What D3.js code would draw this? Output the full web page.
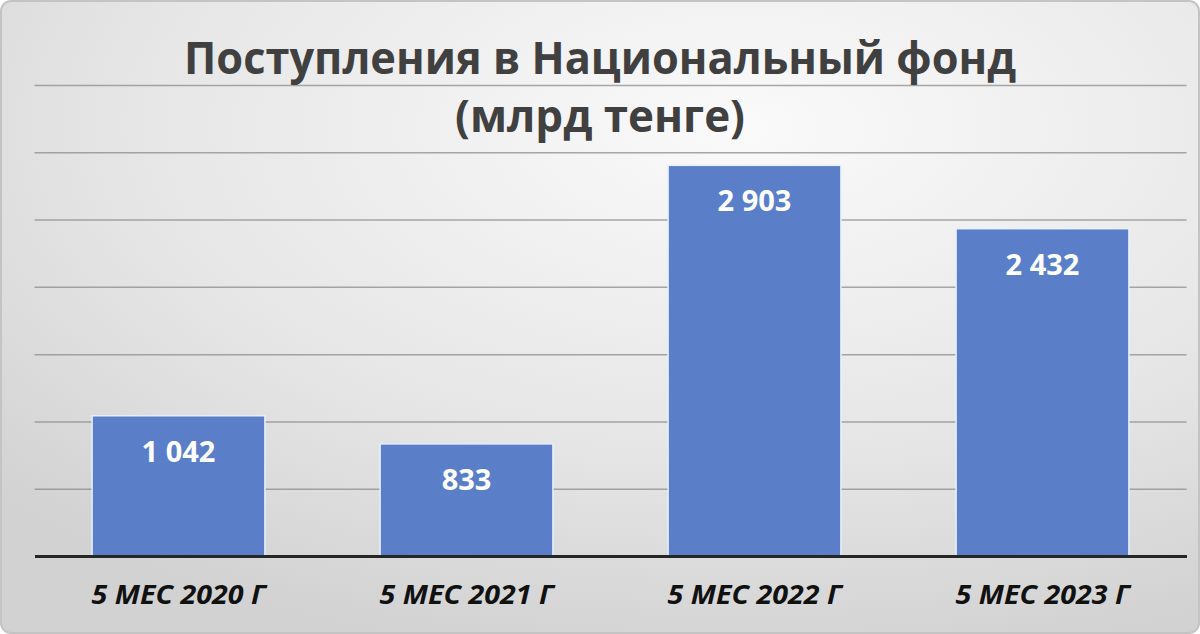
<!DOCTYPE html>
<html>
<head>
<meta charset="utf-8">
<script src="https://cdn.jsdelivr.net/npm/d3@7"></script>
<style>
  html, body { margin: 0; padding: 0; background: #fff; }
  svg { display: block; }
</style>
</head>
<body>
<svg width="1200" height="634"></svg>
<script>
// chart data
const categories = ["5 МЕС 2020 Г", "5 МЕС 2021 Г", "5 МЕС 2022 Г", "5 МЕС 2023 Г"];
const values = [1042, 833, 2903, 2432];
const valueLabels = ["1 042", "833", "2 903", "2 432"];
const gridTicks = [500, 1000, 1500, 2000, 2500, 3000, 3500];
const titleLines = ["Поступления в Национальный фонд", "(млрд тенге)"];

function draw() {
    const W = 1200, H = 634;
    const margin = {top: 85, right: 13.5, bottom: 78, left: 34.5};
    const width = W - margin.left - margin.right,
          height = H - margin.top - margin.bottom;

    const svg = d3.select("svg");

    // background with soft gradient like the office chart area
    const defs = svg.append("defs");
    const grad = defs.append("radialGradient")
        .attr("id", "bg")
        .attr("cx", "62%").attr("cy", "20%").attr("r", "85%");
    grad.append("stop").attr("offset", "0%").attr("stop-color", "#fafafa");
    grad.append("stop").attr("offset", "60%").attr("stop-color", "#e6e6e6");
    grad.append("stop").attr("offset", "100%").attr("stop-color", "#d2d2d2");

    svg.append("rect")
       .attr("x", 1).attr("y", 1)
       .attr("width", W - 2).attr("height", H - 2)
       .attr("rx", 10)
       .attr("fill", "url(#bg)")
       .attr("stroke", "#c4c4c4")
       .attr("stroke-width", 2);

    const g = svg.append("g")
                 .attr("transform", `translate(${margin.left},${margin.top})`);

    const x = d3.scaleBand()
                .domain(categories)
                .range([0, width])
                .paddingInner(0.4)
                .paddingOuter(0.2);

    const y = d3.scaleLinear()
                .domain([0, 3500])
                .range([height, 0]);

    // gridlines
    g.append("g")
     .call(d3.axisLeft(y).tickValues(gridTicks).tickSize(-width).tickFormat(""))
     .call(s => s.select(".domain").remove())
     .call(s => s.selectAll("line")
                 .attr("stroke", "#8c8c8c")
                 .attr("stroke-opacity", 0.75)
                 .attr("stroke-width", 1.5));

    // title, two lines, drawn over the top gridline as in the source
    svg.selectAll(".title")
       .data(titleLines)
       .enter()
       .append("text")
         .attr("class", "title")
         .attr("x", 600)
         .attr("y", (d, i) => 74 + i * 58)
         .attr("text-anchor", "middle")
         .attr("font-family", "'Open Sans', sans-serif")
         .attr("font-weight", "bold")
         .attr("font-size", 45)
         .attr("fill", "#404040")
         .attr("textLength", (d, i) => i === 0 ? 832 : 290)
         .attr("lengthAdjust", "spacingAndGlyphs")
         .text(d => d);

    // bars
    g.selectAll(".bar")
     .data(values)
     .enter()
     .append("rect")
       .attr("class", "bar")
       .attr("x", (d, i) => x(categories[i]))
       .attr("y", d => y(d))
       .attr("width", x.bandwidth())
       .attr("height", d => height - y(d))
       .attr("fill", "#5a7fc8")
       .attr("stroke", "#e8eefa")
       .attr("stroke-width", 1.5);

    // value labels inside the bar tops
    g.selectAll(".val")
     .data(values)
     .enter()
     .append("text")
       .attr("class", "val")
       .attr("x", (d, i) => x(categories[i]) + x.bandwidth() / 2)
       .attr("y", d => y(d) + 46)
       .attr("text-anchor", "middle")
       .attr("font-family", "'Open Sans', sans-serif")
       .attr("font-weight", "bold")
       .attr("font-size", 29)
       .attr("fill", "#ffffff")
       .text((d, i) => valueLabels[i]);

    // category axis
    const xAxis = g.append("g")
       .attr("transform", `translate(0,${height})`)
       .call(d3.axisBottom(x).tickSize(0).tickPadding(29));
    xAxis.select(".domain")
         .attr("stroke", "#262626")
         .attr("stroke-width", 3);
    xAxis.selectAll("text")
         .attr("font-family", "'Open Sans', sans-serif")
         .attr("font-weight", "bold")
         .attr("font-style", "italic")
         .attr("font-size", 27)
         .attr("fill", "#111")
         .attr("textLength", 174)
         .attr("lengthAdjust", "spacingAndGlyphs");
}

draw();
</script>
</body>
</html>
